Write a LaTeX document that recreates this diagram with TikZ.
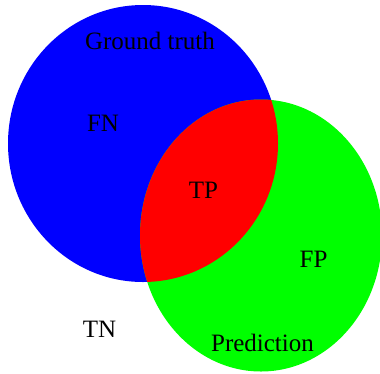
\documentclass[tikz,border=0pt]{standalone}
\usepackage{fontspec}
\setmainfont{Liberation Serif}
\usepackage{tikz}
\usetikzlibrary{positioning}
\tikzset{
    region/.style={font=\fontsize{25}{28}\selectfont, inner sep=0pt, anchor=base},
}

\begin{document}
\begin{tikzpicture}[x=1pt, y=-1pt]
    \useasboundingbox (0,0) rectangle (380,373);
    % sets
    \fill[blue] (143,143.5) ellipse [x radius=135, y radius=138.5];
    \fill[green] (261,235.5) ellipse [x radius=121, y radius=136];
    \begin{scope}
        \clip (143,143.5) ellipse [x radius=135, y radius=138.5];
        \fill[red] (261,235.5) ellipse [x radius=121, y radius=136];
    \end{scope}
    % labels
    \node[region] (gt) at (150,49.5) {Ground truth};
    \node[region] (fn) at (103,131) {FN};
    \node[region] (tp) at (203.5,198) {TP};
    \node[region] (fp) at (313.5,267) {FP};
    \node[region] (tn) at (99.5,337) {TN};
    \node[region] (pr) at (262.5,351) {Prediction};
\end{tikzpicture}
\end{document}
